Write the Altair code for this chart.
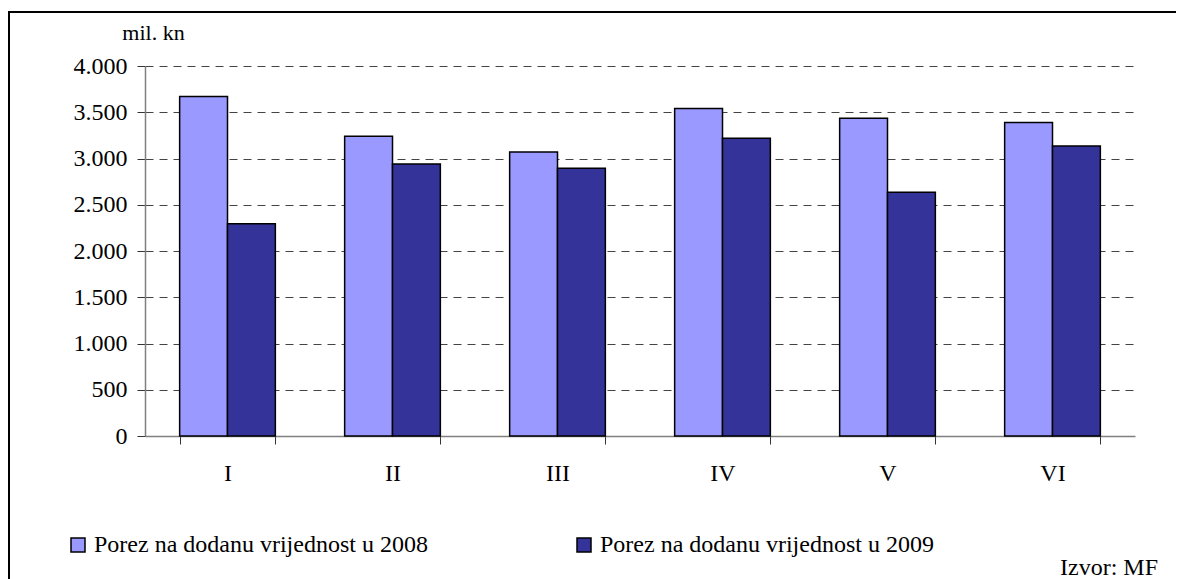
import altair as alt
import pandas as pd

months = ["I", "II", "III", "IV", "V", "VI"]
series = ["Porez na dodanu vrijednost u 2008", "Porez na dodanu vrijednost u 2009"]
vat_2008 = [3670, 3240, 3070, 3540, 3435, 3390]
vat_2009 = [2295, 2940, 2895, 3220, 2635, 3135]
y_ticks = [0, 500, 1000, 1500, 2000, 2500, 3000, 3500, 4000]
colors = ["#9999FF", "#333399"]
source_note = ["Izvor: MF"]

rows = []
for m, a, b in zip(months, vat_2008, vat_2009):
    rows.append({"mjesec": m, "serija": series[0], "vrijednost": a})
    rows.append({"mjesec": m, "serija": series[1], "vrijednost": b})
df = pd.DataFrame(rows)
note_df = pd.DataFrame({"t": source_note})

FONT = "Liberation Serif"

bars = alt.Chart(df).mark_bar(stroke="black", strokeWidth=1.5).encode(
    x=alt.X(
        "mjesec:N",
        sort=months,
        scale=alt.Scale(paddingInner=0.42, paddingOuter=0.21),
        axis=alt.Axis(
            title=None,
            labelAngle=0,
            tickBand="extent",
            labelFont=FONT,
            labelFontSize=24,
            labelColor="black",
            labelPadding=17,
            tickSize=8,
            tickColor="#333333",
            domainColor="#808080",
            domainWidth=1.5,
            grid=False,
        ),
    ),
    xOffset=alt.XOffset("serija:N", sort=series, scale=alt.Scale(paddingInner=0, paddingOuter=0)),
    y=alt.Y(
        "vrijednost:Q",
        scale=alt.Scale(domain=[0, 4000], nice=False),
        axis=alt.Axis(
            values=y_ticks,
            labelExpr="replace(format(datum.value, ',d'), ',', '.')",
            title="mil. kn",
            titleAngle=0,
            titleX=8,
            titleY=-27,
            titleAlign="center",
            titleBaseline="alphabetic",
            titleFont=FONT,
            titleFontSize=22,
            titleFontWeight="normal",
            titleColor="black",
            labelFont=FONT,
            labelFontSize=24,
            labelColor="black",
            labelPadding=10,
            tickSize=8,
            tickColor="#333333",
            domainColor="#808080",
            domainWidth=1.5,
            grid=True,
            gridColor="#444444",
            gridDash=[8, 6],
            gridWidth=1,
        ),
    ),
    color=alt.Color(
        "serija:N",
        sort=series,
        scale=alt.Scale(domain=series, range=colors),
        legend=alt.Legend(
            title=None,
            orient="none",
            legendX=-79,
            legendY=467,
            direction="horizontal",
            columns=2,
            columnPadding=144,
            labelFont=FONT,
            labelFontSize=24,
            labelColor="black",
            labelLimit=0,
            labelOffset=4,
            symbolType="square",
            symbolSize=196,
            symbolStrokeColor="black",
            symbolStrokeWidth=1.5,
            symbolOpacity=1,
        ),
    ),
)

frame_top = alt.Chart(note_df).mark_rule(stroke="black", strokeWidth=2).encode(
    x=alt.value(-136), x2=alt.value(1040), y=alt.value(-54)
)
frame_left = alt.Chart(note_df).mark_rule(stroke="black", strokeWidth=2).encode(
    x=alt.value(-136), y=alt.value(-55), y2=alt.value(520)
)

note = alt.Chart(note_df).mark_text(
    font=FONT, fontSize=24, align="right", baseline="alphabetic", color="black"
).encode(x=alt.value(1013), y=alt.value(509), text="t:N")

chart = (
    alt.layer(frame_top, frame_left, bars, note)
    .properties(
        width=990,
        height=370,
        autosize=alt.AutoSizeParams(type="none"),
        padding={"left": 137, "top": 58, "right": 41, "bottom": 143},
    )
    .configure(background="white", font=FONT)
    .configure_view(stroke=None)
    .configure_axis(labelFont=FONT, titleFont=FONT)
    .configure_legend(labelFont=FONT)
    .configure_text(font=FONT)
)

chart.save("out.html", embed_options={"renderer": "svg", "actions": False})
